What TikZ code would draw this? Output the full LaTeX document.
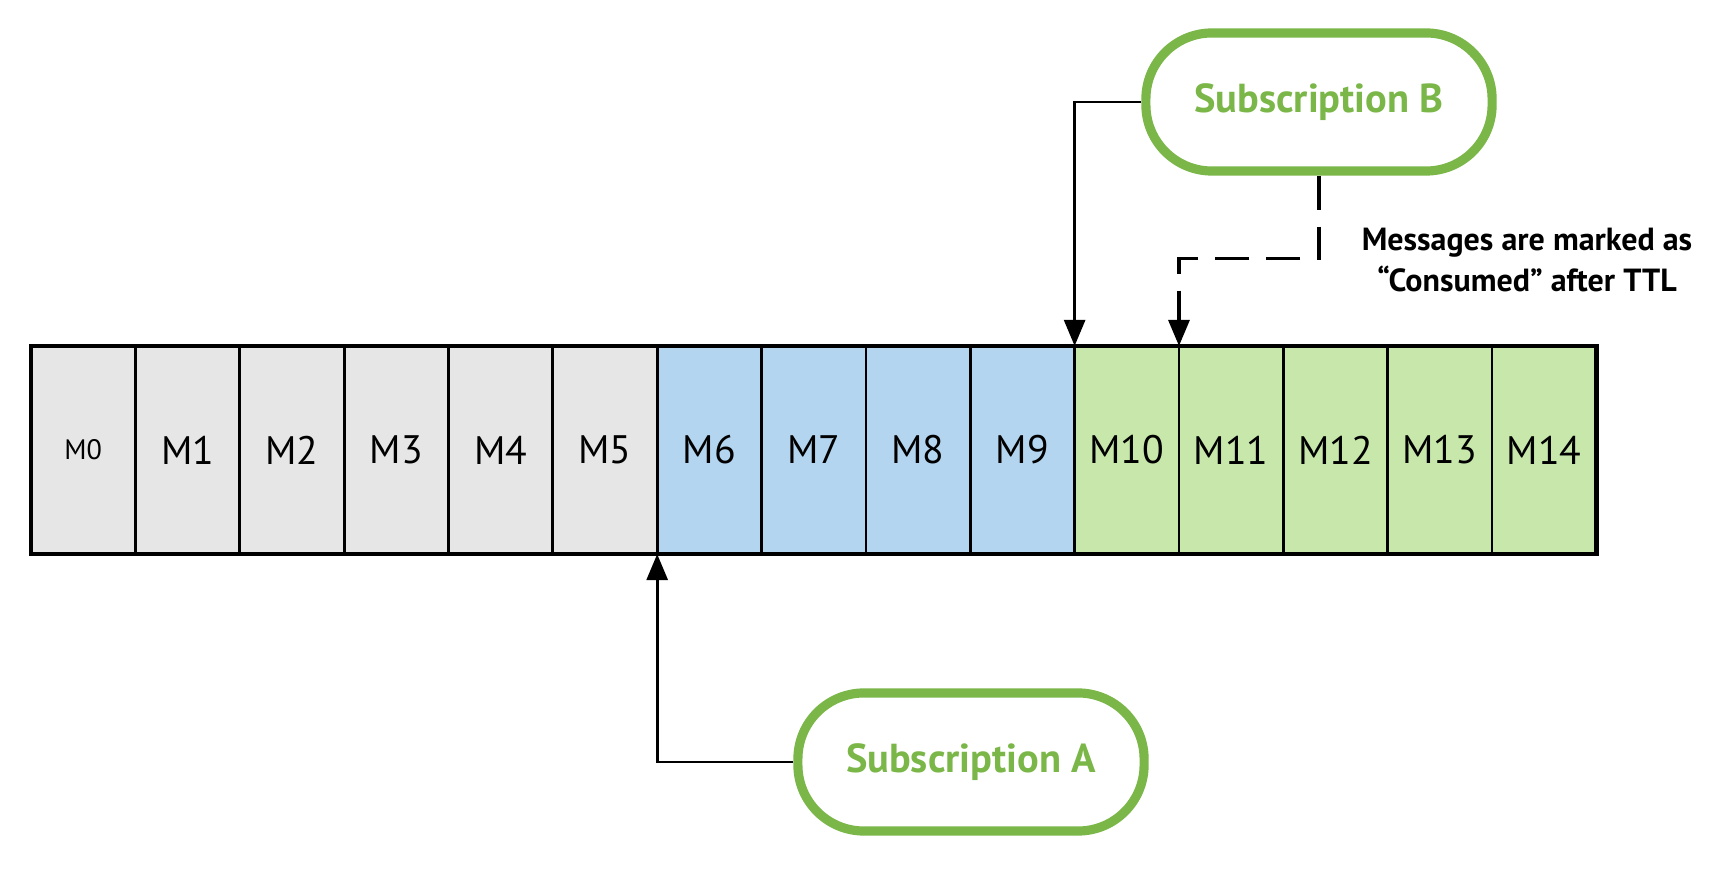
\documentclass[tikz,border=0pt]{standalone}
\usepackage{fontspec}
\setmainfont{PT Sans}
\usepackage{tikz}
\usetikzlibrary{positioning,arrows.meta}
\definecolor{oldgrey}{HTML}{E6E6E6}
\definecolor{ackblue}{HTML}{B3D5F0}
\definecolor{ttlgreen}{HTML}{C7E8AA}
\definecolor{subgreen}{HTML}{7AB648}
\tikzstyle{msg} = [draw, line width=0.8pt, outer sep=0pt, inner sep=0pt,
  minimum width=1.043cm, minimum height=2.08cm, font=\fontsize{11.3}{13}\selectfont]
\tikzstyle{sub} = [draw=subgreen, line width=2.6pt, rounded corners=0.66cm,
  minimum width=3.46cm, minimum height=1.38cm, text=subgreen,
  font=\fontsize{11.5}{14}\selectfont\bfseries]
\tikzstyle{link} = [line width=0.8pt, -{Triangle[length=2.6mm, width=2.1mm]}]

\begin{document}
\begin{tikzpicture}[x=0.01cm, y=-0.01cm]
    \useasboundingbox (0,0) rectangle (1736,883);
    % the message log
    \node[msg, fill=oldgrey, font=\fontsize{8}{10}\selectfont] (m0) at (83.2,450) {M0};
    \node[msg, fill=oldgrey, right = 0mm of m0] (m1) {M1};
    \node[msg, fill=oldgrey, right = 0mm of m1] (m2) {M2};
    \node[msg, fill=oldgrey, right = 0mm of m2] (m3) {M3};
    \node[msg, fill=oldgrey, right = 0mm of m3] (m4) {M4};
    \node[msg, fill=oldgrey, right = 0mm of m4] (m5) {M5};
    \node[msg, fill=ackblue, right = 0mm of m5] (m6) {M6};
    \node[msg, fill=ackblue, right = 0mm of m6] (m7) {M7};
    \node[msg, fill=ackblue, right = 0mm of m7] (m8) {M8};
    \node[msg, fill=ackblue, right = 0mm of m8] (m9) {M9};
    \node[msg, fill=ttlgreen, right = 0mm of m9] (m10) {M10};
    \node[msg, fill=ttlgreen, right = 0mm of m10] (m11) {M11};
    \node[msg, fill=ttlgreen, right = 0mm of m11] (m12) {M12};
    \node[msg, fill=ttlgreen, right = 0mm of m12] (m13) {M13};
    \node[msg, fill=ttlgreen, right = 0mm of m13] (m14) {M14};
    \draw[line width=1.3pt] (m0.north west) rectangle (m14.south east);
    % subscriptions
    \node[sub] (subB) at (1319,102) {Subscription B};
    \node[sub] (subA) at (971,762) {Subscription A};
    \node[font=\fontsize{9.1}{11.4}\selectfont\bfseries, align=center] (ttl) at (1527,260)
      {Messages are marked as\\``Consumed'' after TTL};
    \draw[link] (subB.west) -| (m10.north west);
    \draw[link, line width=0.9pt, dash pattern=on 0.34cm off 0.17cm] (subB.south) |- ([yshift=0.87cm]m11.north west) -- (m11.north west);
    \draw[link] (subA.west) -| (m6.south west);
\end{tikzpicture}
\end{document}
